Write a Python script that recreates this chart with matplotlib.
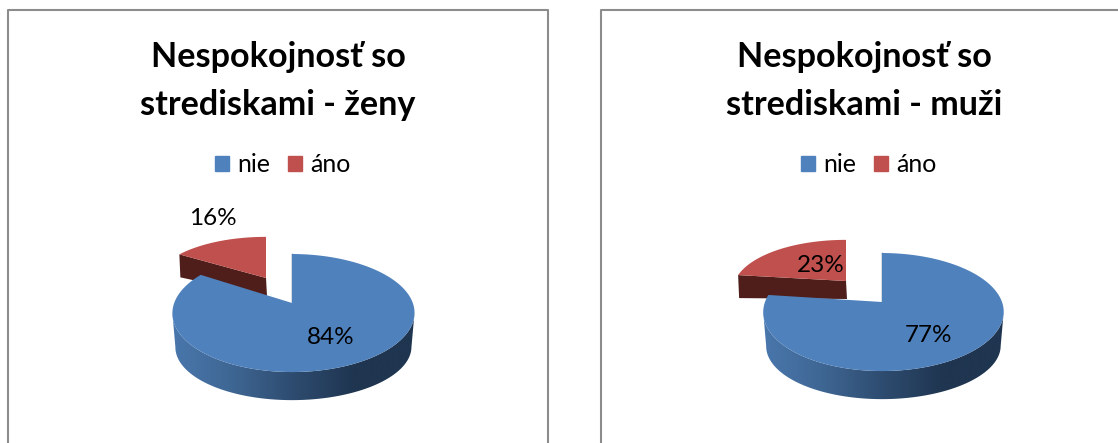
import numpy as np
import matplotlib
matplotlib.use("Agg")
import matplotlib.pyplot as plt
from matplotlib.patches import Patch, Polygon

plt.rcParams['font.family'] = ['Lato', 'DejaVu Sans']

labels = ['nie', 'áno']
zeny = [84, 16]
muzi = [77, 23]
title_zeny = 'Nespokojnosť so\nstrediskami - ženy'
title_muzi = 'Nespokojnosť so\nstrediskami - muži'

W, H = 1118, 443
BLUE = '#4f81bd'
RED = '#c0504d'
DARK_RED = '#4f1e1b'
K = 0.17  # perspective of the tilted disc

side_cmap = matplotlib.colors.LinearSegmentedColormap.from_list(
    'side', ['#4a78ae', '#3f6794', '#2e4c70', '#1f3550', '#1f3550'])


def project(theta, a, b):
    # theta clockwise from 12 o'clock, back of the disc is squeezed
    s, c = np.sin(theta), np.cos(theta)
    d = 1 + K * c
    return a * s / d + 1.5 * s ** 2, b * c / d


def draw_pie(ax, values, ax0, ay0, a, red_apex):
    end = 2 * np.pi * values[0] / sum(values)
    b = 57.3

    # exploded red slice, cut face first
    rx, ry = red_apex
    t = np.linspace(end, 2 * np.pi, 40)
    x, y = project(t, a * 0.95, b * 0.84)
    ax.fill([rx, rx + x[0], rx + x[0] + 1, rx + 1],
            [ry, ry - y[0], ry - y[0] + 23, ry + 18],
            color=DARK_RED, lw=0, zorder=2)
    ax.fill(np.r_[rx, rx + x], np.r_[ry, ry - y], color=RED, lw=0, zorder=3)

    # blue side wall with the left to right shading, between the widest points
    widest = np.arccos(-K)
    t = np.linspace(widest, min(end, 2 * np.pi - widest), 120)
    x, y = project(t, a, b)
    side = np.c_[np.r_[ax0 + x, (ax0 + x * 0.975)[::-1]],
                 np.r_[ay0 - y, (ay0 + 35 - y * 0.9)[::-1]]]
    clip = Polygon(side, transform=ax.transData, fc='none', ec='none')
    ax.add_patch(clip)
    im = ax.imshow(np.linspace(0, 1, 256)[None, :], cmap=side_cmap, aspect='auto',
                   extent=[ax0 - a - 5, ax0 + a + 5, H, 0], zorder=4)
    im.set_clip_path(clip)

    # notch edge and blue top
    ax.plot([ax0, ax0], [ay0 - 49, ay0], color='#2c4a6e', lw=1, zorder=4)
    t = np.linspace(0, end, 240)
    x, y = project(t, a, b)
    ax.fill(np.r_[ax0, ax0 + x], np.r_[ay0, ay0 - y], color=BLUE, lw=0, zorder=5)


def setup(fig, x0, x1, frame_left, frame_right, title, cx, legend_x):
    ax = fig.add_axes([x0 / W, 0, (x1 - x0) / W, 1])
    ax.set_xlim(x0, x1)
    ax.set_ylim(H, 0)
    ax.set_autoscale_on(False)
    ax.axis('off')
    ax.plot([frame_left, frame_left, frame_right, frame_right], [H, 10, 10, H],
            color='#8c8c8c', lw=1.5, clip_on=False, zorder=1)
    ax.text(cx, 81, title, ha='center', va='center', fontsize=24.6, fontweight='bold',
            linespacing=1.6, color='black')
    handles = [Patch(color=BLUE), Patch(color=RED)]
    ax.legend(handles, labels, ncol=2, frameon=False, fontsize=18,
              loc='center', bbox_to_anchor=(legend_x, 165), bbox_transform=ax.transData,
              handlelength=0.56, handleheight=0.56, handletextpad=0.32, columnspacing=0.72,
              borderpad=0, borderaxespad=0)
    return ax


fig = plt.figure(figsize=(W / 100, H / 100), dpi=100)

ax1 = setup(fig, 0, 574, 8, 548, title_zeny, 278, 283)
draw_pie(ax1, zeny, 292, 303, 119.3, (266, 278))
ax1.text(331, 338, f'{zeny[0]}%', ha='center', va='center', fontsize=17.5, zorder=6)
ax1.text(213, 218, f'{zeny[1]}%', ha='center', va='center', fontsize=17.5, zorder=6)

ax2 = setup(fig, 574, 1118, 601, 1135, title_muzi, 864, 869)
draw_pie(ax2, muzi, 882, 302, 118.5, (846, 281))
ax2.text(929, 335, f'{muzi[0]}%', ha='center', va='center', fontsize=17.5, zorder=6)
ax2.text(821, 266, f'{muzi[1]}%', ha='center', va='center', fontsize=17.5, zorder=6)

fig.savefig('out.png', dpi=100)
